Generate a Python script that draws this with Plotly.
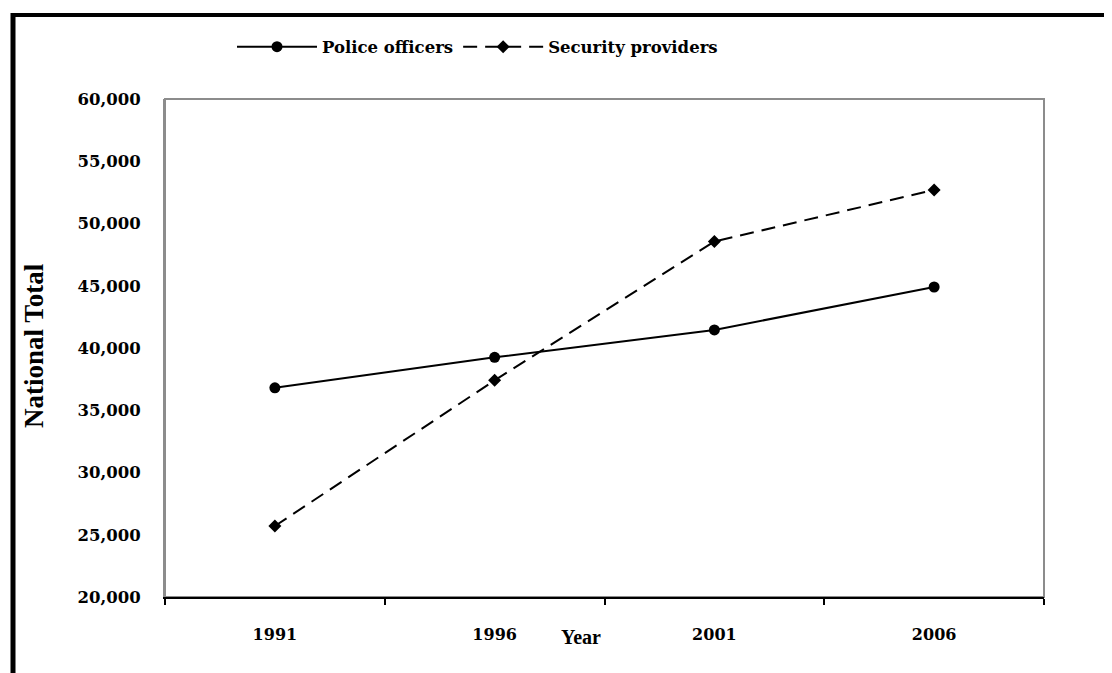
import plotly.graph_objects as go

years = ["1991", "1996", "2001", "2006"]
police_officers = [36800, 39250, 41450, 44900]
security_providers = [25700, 37400, 48550, 52700]
y_ticks = [20000, 25000, 30000, 35000, 40000, 45000, 50000, 55000, 60000]

SERIF = "Liberation Serif"
WIDE = "DejaVu Serif"

# page has an 8px body margin; figure is sized to fit the 1112x673 window
OFF = 8
FIG_W, FIG_H = 1112 - 2 * OFF, 673 - OFF
# plot area in page pixels
L, R, T, B = 165, 1044, 99, 597
W, H = R - L, B - T
def px(x):
    return (x - L) / W
def py(y):
    return (B - y) / H

fig = go.Figure()
fig.add_trace(go.Scatter(
    x=years, y=police_officers, name="Police officers", mode="lines+markers",
    line=dict(color="black", width=2),
    marker=dict(symbol="circle", size=11, color="black"),
))
fig.add_trace(go.Scatter(
    x=years, y=security_providers, name="Security providers", mode="lines+markers",
    line=dict(color="black", width=2, dash="14px,8px"),
    marker=dict(symbol="diamond", size=10, color="black"),
))

shapes = [
    dict(type="rect", xref="paper", yref="paper", x0=0, y0=0, x1=1, y1=1,
         line=dict(color="#8c8c8c", width=2), layer="below"),
    dict(type="line", xref="paper", yref="paper", x0=px(11), x1=1.2, y0=py(15), y1=py(15),
         line=dict(color="black", width=4)),
    dict(type="line", xref="paper", yref="paper", x0=px(13), x1=px(13), y0=py(13), y1=-0.3,
         line=dict(color="black", width=5)),
]

fig.update_layout(
    width=FIG_W, height=FIG_H,
    margin=dict(l=L - OFF, r=(FIG_W + OFF) - R, t=T - OFF, b=673 - B, pad=0),
    paper_bgcolor="white", plot_bgcolor="white",
    font=dict(family=SERIF, color="black"),
    showlegend=True,
    legend=dict(
        orientation="h", x=px(232), y=py(47), xanchor="left", yanchor="middle",
        font=dict(family=WIDE, size=16.5, color="black", weight="bold"),
        bgcolor="rgba(0,0,0,0)", itemwidth=80, tracegroupgap=0,
    ),
    shapes=shapes,
    annotations=[
        dict(text="<b>Year</b>", xref="paper", yref="paper", x=px(581), y=py(637),
             xanchor="center", yanchor="middle", showarrow=False,
             font=dict(family=SERIF, size=20, color="black")),
        dict(text="<b>National Total</b>", xref="paper", yref="paper", x=px(34), y=py(346),
             xanchor="center", yanchor="middle", showarrow=False, textangle=-90,
             font=dict(family=SERIF, size=27, color="black")),
    ],
)

fig.update_xaxes(
    type="category", categoryorder="array", categoryarray=years,
    range=[-0.5, 3.5], showgrid=False, zeroline=False,
    showline=True, linecolor="black", linewidth=2,
    ticks="outside", tickson="boundaries", ticklen=6, tickwidth=2, tickcolor="black",
    tickfont=dict(family=WIDE, size=16, color="black", weight="bold"),
    ticklabelstandoff=22,
)
fig.update_yaxes(
    range=[20000, 60000], tickvals=y_ticks, tickformat=",",
    showgrid=False, zeroline=False,
    showline=True, linecolor="#8c8c8c", linewidth=2,
    ticks="", tickfont=dict(family=WIDE, size=16.5, color="black", weight="bold"),
    ticklabelstandoff=19,
)

fig.write_html("out.html")
